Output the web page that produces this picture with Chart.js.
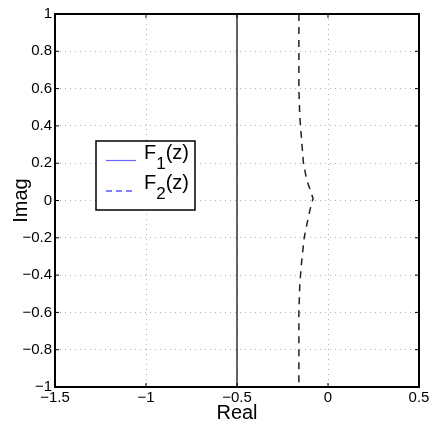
<!DOCTYPE html>
<html>
<head>
<meta charset="utf-8">
<script src="https://cdn.jsdelivr.net/npm/chart.js@4"></script>
<style>
  html, body { margin: 0; padding: 0; background: #fff; }
  #wrap { width: 434px; height: 425px; }
</style>
</head>
<body>
<div id="wrap"><canvas id="chart" width="434" height="425"></canvas></div>
<script>
// Axis ranges / ticks
const xRange = [-1.5, 0.5];
const yRange = [-1, 1];
const xStep = 0.5;
const yStep = 0.2;

// F1(z): vertical locus at Re = -0.5
const f1Real = [-0.5, -0.5];
const f1Imag = [-1, 1];

// F2(z): dashed locus bending toward Re ~ -0.08 at Im = 0
const f2Real = [-0.16, -0.16, -0.155, -0.147, -0.135, -0.117, -0.095, -0.082, -0.099, -0.108, -0.131, -0.146, -0.155, -0.16, -0.16];
const f2Imag = [1, 0.6, 0.45, 0.35, 0.2, 0.11, 0.05, 0.01, -0.05, -0.09, -0.2, -0.34, -0.45, -0.6, -1];

// Legend entries: base name, subscript, suffix
const legendNames = ["F", "F"];
const legendSubs = ["1", "2"];
const legendSuffix = ["(z)", "(z)"];

const FONT = "'Liberation Sans', Arial, sans-serif";

function toPoints(xs, ys) {
  return xs.map((x, i) => ({ x: x, y: ys[i] }));
}

function fmtTick(v) {
  const s = String(Math.round(v * 10) / 10);
  return s.replace("-", "\u2212");
}

// Box around plot area with small inward tick marks (MATLAB style)
const framePlugin = {
  id: "frame",
  afterDraw(chart) {
    const { ctx, chartArea: a, scales } = chart;
    ctx.save();
    ctx.strokeStyle = "#000";
    ctx.lineWidth = 1;
    const tl = 4;
    scales.x.ticks.forEach(t => {
      const px = scales.x.getPixelForValue(t.value);
      ctx.beginPath();
      ctx.moveTo(px, a.bottom); ctx.lineTo(px, a.bottom - tl);
      ctx.moveTo(px, a.top); ctx.lineTo(px, a.top + tl);
      ctx.stroke();
    });
    scales.y.ticks.forEach(t => {
      const py = scales.y.getPixelForValue(t.value);
      ctx.beginPath();
      ctx.moveTo(a.left, py); ctx.lineTo(a.left + tl, py);
      ctx.moveTo(a.right, py); ctx.lineTo(a.right - tl, py);
      ctx.stroke();
    });
    ctx.lineWidth = 2;
    ctx.strokeRect(a.left, a.top, a.right - a.left, a.bottom - a.top);
    ctx.restore();

    // Legend box with subscripted labels
    const lx = 96, ly = 141, lw = 99, lh = 69;
    ctx.save();
    ctx.fillStyle = "#fff";
    ctx.fillRect(lx, ly, lw, lh);
    ctx.strokeStyle = "#000";
    ctx.lineWidth = 1.5;
    ctx.strokeRect(lx, ly, lw, lh);
    const rows = [
      { y: 160.5, color: "#6666ff", dash: [] },
      { y: 191, color: "#0000ff", dash: [6, 4] }
    ];
    rows.forEach((r, i) => {
      ctx.beginPath();
      ctx.strokeStyle = r.color;
      ctx.lineWidth = 1.2;
      ctx.setLineDash(r.dash);
      ctx.moveTo(106, r.y); ctx.lineTo(136, r.y);
      ctx.stroke();
      ctx.setLineDash([]);
      ctx.fillStyle = "#000";
      ctx.textBaseline = "alphabetic";
      ctx.textAlign = "left";
      let x = 144;
      const base = r.y - 2;
      ctx.font = "20px " + FONT;
      ctx.fillText(legendNames[i], x, base);
      x += ctx.measureText(legendNames[i]).width;
      ctx.font = "17px " + FONT;
      ctx.fillText(legendSubs[i], x, base + 10);
      x += ctx.measureText(legendSubs[i]).width;
      ctx.font = "20px " + FONT;
      ctx.fillText(legendSuffix[i], x, base);
    });
    ctx.restore();
  }
};

const gridStyle = {
  color: "rgba(0,0,0,0.3)",
  lineWidth: 1,
  drawTicks: false
};

new Chart(document.getElementById("chart"), {
  type: "scatter",
  data: {
    datasets: [
      {
        label: "F1(z)",
        data: toPoints(f1Real, f1Imag),
        showLine: true,
        borderColor: "#333",
        borderWidth: 1.5,
        pointRadius: 0,
        tension: 0
      },
      {
        label: "F2(z)",
        data: toPoints(f2Real, f2Imag),
        showLine: true,
        borderColor: "#222",
        borderWidth: 1.5,
        borderDash: [7, 6],
        pointRadius: 0,
        tension: 0
      }
    ]
  },
  options: {
    responsive: false,
    animation: false,
    layout: { padding: { top: 14, right: 15, left: 0, bottom: 0 } },
    plugins: {
      legend: { display: false },
      tooltip: { enabled: false }
    },
    scales: {
      x: {
        type: "linear",
        min: xRange[0],
        max: xRange[1],
        grid: gridStyle,
        border: { display: false, dash: [1, 4] },
        ticks: {
          stepSize: xStep,
          color: "#000",
          padding: 2,
          maxRotation: 0,
          font: { family: FONT, size: 15 },
          callback: fmtTick
        },
        title: {
          display: true,
          text: "Real",
          color: "#000",
          padding: { top: 0, bottom: 0 },
          font: { family: FONT, size: 20 }
        },
        afterFit(scale) { scale.height = 38; }
      },
      y: {
        type: "linear",
        min: yRange[0],
        max: yRange[1],
        grid: gridStyle,
        border: { display: false, dash: [1, 4] },
        ticks: {
          stepSize: yStep,
          color: "#000",
          padding: 3,
          font: { family: FONT, size: 15 },
          callback: fmtTick
        },
        title: {
          display: true,
          text: "Imag",
          color: "#000",
          padding: { top: 9, bottom: 0 },
          font: { family: FONT, size: 20 }
        },
        afterFit(scale) { scale.width = 55; }
      }
    }
  },
  plugins: [framePlugin]
});
</script>
</body>
</html>
